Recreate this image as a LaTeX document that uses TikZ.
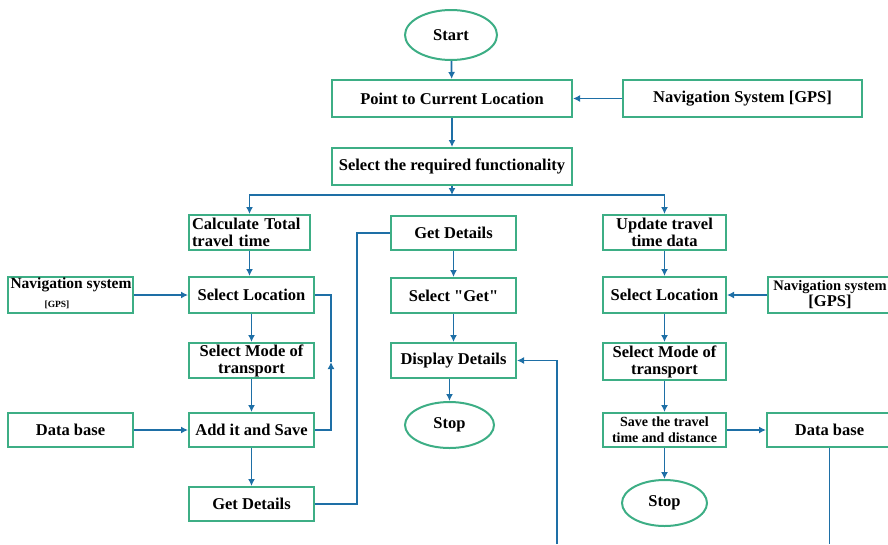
\documentclass[tikz,border=0pt]{standalone}
\usepackage{fontspec}
\setmainfont{Liberation Serif}
\newfontfamily\plainquote{Liberation Serif}
\usetikzlibrary{arrows.meta,shapes.geometric}
\definecolor{boxline}{HTML}{3DAE85}
\definecolor{flow}{HTML}{1E6FA6}

\begin{document}
\begin{tikzpicture}[x=1pt,y=-1pt,
  box/.style={draw=boxline,line width=2pt,fill=white,inner sep=1pt,font=\fontsize{16.5}{17}\selectfont\bfseries,align=center},
  term/.style={ellipse,draw=boxline,line width=2pt,inner sep=0pt,font=\fontsize{16.5}{17}\selectfont\bfseries},
  fl/.style={draw=flow,line width=1.7pt,-{Latex[length=7pt,width=7pt]}},
  ln/.style={draw=flow,line width=1.7pt}]
  \useasboundingbox (0,0) rectangle (888,544);
  \clip (0,0) rectangle (888,544);

  % top part
  \node[term,minimum width=92pt,minimum height=50pt] (start) at (451,35) {Start};
  \node[box,minimum width=240pt,minimum height=37pt] (point) at (452,98.5) {Point to Current Location};
  \node[box,minimum width=239pt,minimum height=37pt] (gpsT) at (742.5,98.5) {Navigation System [GPS]};
  \node[box,minimum width=240pt,minimum height=37pt] (func) at (452,166.5) {Select the required functionality};
  \coordinate (br) at (452,195);

  % left branch
  \node[box,minimum width=121pt,minimum height=35pt,align=left,text width=115pt] (calc) at (249.5,232.5) {Calculate Total\\travel time};
  \node[box,minimum width=125pt,minimum height=36pt] (locL) at (251.5,295) {Select Location};
  \node[box,minimum width=125pt,minimum height=36pt] (gpsL) at (70.5,295) {};
  \node[font=\fontsize{15.5}{15.5}\selectfont\bfseries] (gpsLa) at (71,285) {Navigation system};
  \node[font=\fontsize{9.5}{9.5}\selectfont\bfseries] (gpsLb) at (57,305) {[GPS]};
  \node[box,minimum width=125pt,minimum height=35pt] (modeL) at (251.5,360.5) {Select Mode of\\transport};
  \node[box,minimum width=125pt,minimum height=34pt] (dbL) at (70.5,430) {Data base};
  \node[box,minimum width=125pt,minimum height=34pt] (addL) at (251.5,430) {Add it and Save};
  \node[box,minimum width=125pt,minimum height=34pt] (getL) at (251.5,504) {Get Details};
  \coordinate (loopL) at (331,362);
  \coordinate (jog) at (357,233);

  % middle branch
  \node[box,minimum width=125pt,minimum height=34pt] (getM) at (453.5,233) {Get Details};
  \node[box,minimum width=125pt,minimum height=35pt] (selGet) at (453.5,295.5) {Select {\plainquote\bfseries "Get"}};
  \node[box,minimum width=125pt,minimum height=35pt] (disp) at (453.5,360.5) {Display Details};
  \node[term,minimum width=89pt,minimum height=46pt] (stopM) at (449.5,425) {Stop};
  \coordinate (inM) at (557,544);

  % right branch
  \node[box,minimum width=123pt,minimum height=35pt] (upd) at (664.5,232.5) {Update travel\\time data};
  \node[box,minimum width=123pt,minimum height=36pt] (locR) at (664.5,295) {Select Location};
  \node[box,minimum width=124pt,minimum height=36pt,font=\fontsize{14.5}{16}\selectfont\bfseries] (gpsR) at (830,295) {Navigation system\\{\fontsize{16.5}{16.5}\selectfont[GPS]}};
  \node[box,minimum width=123pt,minimum height=37pt] (modeR) at (664.5,361.5) {Select Mode of\\transport};
  \node[box,minimum width=123pt,minimum height=34pt,font=\fontsize{14}{16}\selectfont\bfseries] (saveR) at (664.5,430) {Save the travel\\time and distance};
  \node[box,minimum width=125pt,minimum height=34pt] (dbR) at (829.5,430) {Data base};
  \node[term,minimum width=85pt,minimum height=46pt] (stopR) at (664.5,503) {Stop};
  \coordinate (outR) at (833,544);

  % connectors
  \draw[fl] (start) -- (point);
  \draw[fl] (gpsT) -- (point);
  \draw[fl] (point) -- (func);
  \draw[fl] (func) -- (br);
  \draw[fl] (br) -| (calc);
  \draw[fl] (br) -| (upd);

  \draw[fl] (calc) -- (calc |- locL.north);
  \draw[fl] (gpsL) -- (locL);
  \draw[fl] (locL) -- (modeL);
  \draw[fl] (modeL) -- (addL);
  \draw[fl] (dbL) -- (addL);
  \draw[fl] (addL) -- (getL);
  \draw[fl] (addL.east) -| (loopL);
  \draw[ln] (loopL) |- (locL.east);
  \draw[ln] (getL.east) -| (jog) -- (getM.west);

  \draw[fl] (getM) -- (selGet);
  \draw[fl] (selGet) -- (disp);
  \draw[fl] (disp.south -| stopM.north) -- (stopM.north);
  \draw[fl] (inM) |- (disp.east);

  \draw[fl] (upd) -- (locR);
  \draw[fl] (gpsR) -- (locR);
  \draw[fl] (locR) -- (modeR);
  \draw[fl] (modeR) -- (saveR);
  \draw[fl] (saveR) -- (stopR);
  \draw[fl] (saveR) -- (dbR);
  \draw[ln] (dbR.south) -- (dbR.south |- outR);
\end{tikzpicture}
\end{document}
